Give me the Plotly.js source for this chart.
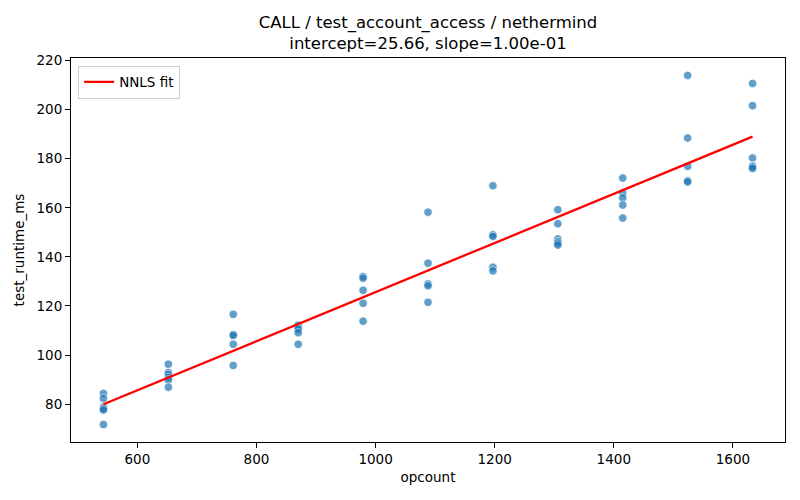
<!DOCTYPE html>
<html>
<head>
<meta charset="utf-8">
<script src="https://cdn.plot.ly/plotly-3.0.1.min.js"></script>
<style>
  html, body { margin: 0; padding: 0; background: #fff; }
  #chart { width: 800px; height: 500px; }
</style>
</head>
<body>
<div id="chart"></div>
<script>
// opcount levels and measured runtimes (ms) read per level
var opcounts = [543, 652, 761, 870, 979, 1088, 1197, 1306, 1415, 1524, 1633];
var runtimes = [
  [84.4, 82.3, 78.9, 78.2, 77.6, 71.7],
  [96.3, 92.9, 92.1, 90.9, 89.9, 86.9],
  [116.6, 108.4, 108.0, 104.4, 95.8],
  [112.2, 111.1, 110.5, 109.1, 104.4],
  [132.0, 131.3, 126.4, 121.1, 113.8],
  [158.2, 137.4, 129.0, 128.2, 121.5],
  [169.0, 149.0, 148.3, 135.8, 134.3],
  [159.2, 153.5, 147.3, 146.2, 145.6, 144.8],
  [172.1, 166.0, 164.0, 161.1, 155.8],
  [213.9, 188.4, 176.9, 171.0, 170.5],
  [210.6, 201.6, 180.3, 177.1, 176.6, 176.0]
];

// NNLS fit endpoints
var fitX = [543, 1633];
var fitY = [79.96, 188.96];

var xTicks = [600, 800, 1000, 1200, 1400, 1600];
var yTicks = [80, 100, 120, 140, 160, 180, 200, 220];

var px = [], py = [];
opcounts.forEach(function (x, i) {
  runtimes[i].forEach(function (y) { px.push(x); py.push(y); });
});

var points = {
  x: px,
  y: py,
  mode: 'markers',
  type: 'scatter',
  showlegend: false,
  marker: {
    color: '#1f77b4',
    size: 8.5,
    opacity: 0.7,
    line: { color: 'white', width: 0.8 }
  }
};

var fit = {
  x: fitX,
  y: fitY,
  mode: 'lines',
  type: 'scatter',
  name: 'NNLS fit',
  line: { color: 'red', width: 2.3 }
};

var axisStyle = {
  showline: true,
  linecolor: 'black',
  linewidth: 1,
  mirror: true,
  showgrid: false,
  zeroline: false,
  ticks: 'outside',
  ticklen: 5,
  tickwidth: 1,
  tickcolor: 'black',
  tickfont: { size: 13.5, color: 'black' }
};

var layout = {
  width: 800,
  height: 500,
  margin: { l: 71, r: 15, t: 58, b: 58 },
  paper_bgcolor: 'white',
  plot_bgcolor: 'white',
  font: { family: 'DejaVu Sans, sans-serif', color: 'black' },
  title: {
    text: 'CALL / test_account_access / nethermind<br>intercept=25.66, slope=1.00e-01',
    font: { size: 16.5, color: 'black' },
    x: 0.5,
    xref: 'paper',
    y: 0.944,
    yref: 'container',
    yanchor: 'top'
  },
  xaxis: Object.assign({}, axisStyle, {
    range: [488.5, 1687.5],
    tickvals: xTicks,
    title: { text: 'opcount', font: { size: 13.5 }, standoff: 6 }
  }),
  yaxis: Object.assign({}, axisStyle, {
    range: [64.6, 221.0],
    tickvals: yTicks,
    title: { text: 'test_runtime_ms', font: { size: 13.5 }, standoff: 8 }
  }),
  legend: {
    x: 0.01,
    y: 0.98,
    xanchor: 'left',
    yanchor: 'top',
    bgcolor: 'rgba(255,255,255,0.8)',
    bordercolor: '#cccccc',
    borderwidth: 1,
    font: { size: 13.5, color: 'black' }
  }
};

Plotly.newPlot('chart', [points, fit], layout, { staticPlot: true });
</script>
</body>
</html>
